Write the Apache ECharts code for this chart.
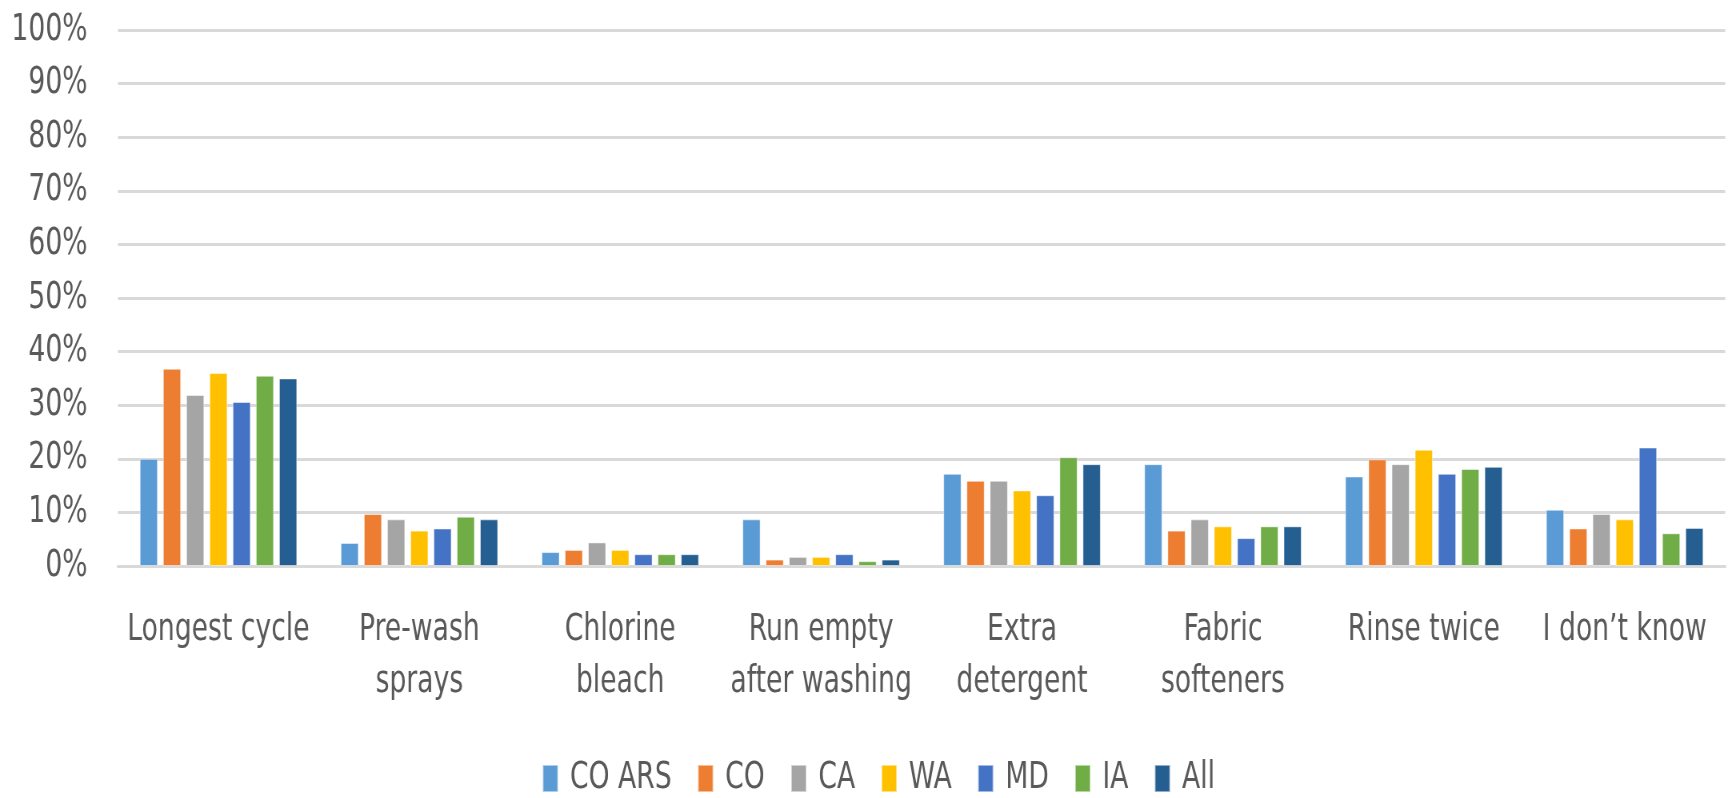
<!DOCTYPE html>
<html>
<head>
<meta charset="utf-8">
<script src="https://cdn.jsdelivr.net/npm/echarts@6/dist/echarts.min.js"></script>
<style>
html,body{margin:0;padding:0;background:#fff;overflow:hidden;}
#wrap{width:1731px;height:798px;overflow:hidden;}
#c{width:2164px;height:798px;transform:scaleX(0.8);transform-origin:0 0;}
</style>
</head>
<body>
<div id="wrap"><div id="c"></div></div>
<script>
const categories = ["Longest cycle", "Pre-wash\nsprays", "Chlorine\nbleach", "Run empty\nafter washing", "Extra\ndetergent", "Fabric\nsofteners", "Rinse twice", "I don\u2019t know"];
const seriesNames = ["CO ARS", "CO", "CA", "WA", "MD", "IA", "All"];
const coArs = [20.0, 4.3, 2.6, 8.7, 17.2, 19.0, 16.7, 10.5];
const co    = [36.8, 9.7, 3.0, 1.2, 15.9, 6.6, 19.9, 7.0];
const ca    = [31.9, 8.7, 4.4, 1.7, 15.9, 8.7, 19.0, 9.7];
const wa    = [36.0, 6.6, 3.0, 1.7, 14.1, 7.4, 21.7, 8.7];
const md    = [30.6, 7.0, 2.2, 2.2, 13.2, 5.2, 17.2, 22.1];
const ia    = [35.5, 9.2, 2.2, 0.9, 20.3, 7.4, 18.1, 6.1];
const all   = [35.0, 8.7, 2.2, 1.2, 19.0, 7.4, 18.5, 7.1];
const yTicks = [0, 10, 20, 30, 40, 50, 60, 70, 80, 90, 100];

const colors = ["#5B9BD5", "#ED7D31", "#A5A5A5", "#FFC000", "#4472C4", "#70AD47", "#255E91"];
const dataSets = [coArs, co, ca, wa, md, ia, all];
const FONT = "'DejaVu Sans Condensed', 'DejaVu Sans', sans-serif";
const SX = 0.8; // horizontal squeeze applied by CSS

const chart = echarts.init(document.getElementById('c'));
chart.setOption({
  animation: false,
  color: colors,
  textStyle: { fontFamily: FONT },
  grid: { left: 118 / SX, right: 6 / SX, top: 30, bottom: 232, containLabel: false },
  legend: {
    top: 760,
    left: 542 / SX,
    padding: 0,
    itemWidth: 19,
    itemHeight: 27,
    itemGap: 32,
    icon: 'rect',
    textStyle: { fontFamily: FONT, fontSize: 37, color: '#595959', padding: [0, 0, 0, 10] },
    data: seriesNames
  },
  xAxis: {
    type: 'category',
    data: categories,
    axisLine: { show: true, lineStyle: { color: '#d9d9d9', width: 3 } },
    axisTick: { show: false },
    axisLabel: { fontFamily: FONT, fontSize: 37, color: '#595959', lineHeight: 52, margin: 38, interval: 0 }
  },
  yAxis: {
    type: 'value',
    min: yTicks[0],
    max: yTicks[yTicks.length - 1],
    interval: 10,
    axisLine: { show: false },
    axisTick: { show: false },
    axisLabel: { fontFamily: FONT, fontSize: 37, color: '#595959', margin: 38, formatter: '{value}%' },
    splitLine: { lineStyle: { color: '#d9d9d9', width: 3 } }
  },
  series: seriesNames.map((n, i) => ({
    name: n,
    type: 'bar',
    data: dataSets[i],
    barWidth: 18 / SX,
    barGap: '29%',
    itemStyle: { color: colors[i], borderColor: 'rgba(255,255,255,0.5)', borderWidth: 1 }
  }))
});
</script>
</body>
</html>
